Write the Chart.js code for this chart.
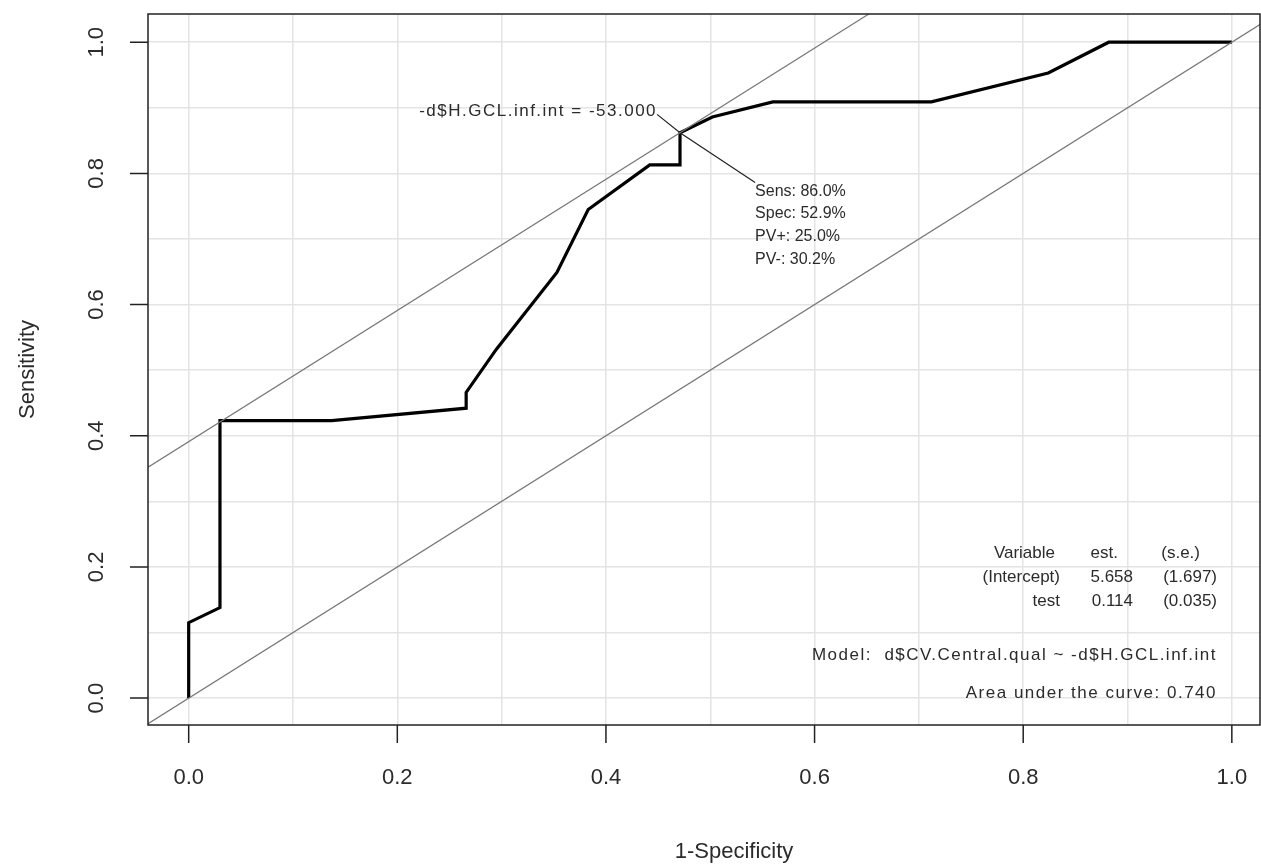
<!DOCTYPE html>
<html>
<head>
<meta charset="utf-8">
<script src="https://cdn.jsdelivr.net/npm/chart.js@4"></script>
<style>
  html, body { margin: 0; padding: 0; background: #fff; }
  #wrap { width: 1261px; height: 867px; }
</style>
</head>
<body>
<div id="wrap"><canvas id="roc"></canvas></div>
<script>
// ROC curve (1-specificity, sensitivity)
const fpr = [0, 0, 0.030, 0.030, 0.137, 0.266, 0.266, 0.295, 0.353, 0.383, 0.442, 0.471, 0.471, 0.502, 0.560, 0.712, 0.824, 0.882, 1.0];
const tpr = [0, 0.115, 0.138, 0.423, 0.423, 0.442, 0.466, 0.532, 0.649, 0.745, 0.813, 0.813, 0.862, 0.886, 0.909, 0.909, 0.953, 1.0, 1.0];
const tickVals = [0, 0.2, 0.4, 0.6, 0.8, 1.0];
const tickLabels = ["0.0", "0.2", "0.4", "0.6", "0.8", "1.0"];
const bestFpr = 0.471, bestTpr = 0.862;
const bestLabel = "-d$H.GCL.inf.int = -53.000";
const bestStats = ["Sens: 86.0%", "Spec: 52.9%", "PV+: 25.0%", "PV-: 30.2%"];
const tableRows = [["Variable", "est.", "(s.e.)"], ["(Intercept)", "5.658", "(1.697)"], ["test", "0.114", "(0.035)"]];
const modelText = "Model:  d$CV.Central.qual ~ -d$H.GCL.inf.int";
const aucText = "Area under the curve: 0.740";

const FONT = '"Liberation Sans", Arial, sans-serif';
const TXT = "#2b2b2b";

const rocPoints = fpr.map((x, i) => ({ x, y: tpr[i] }));
// slope-1 reference lines: diagonal and the tangent through the optimal cut-off
const diag = [{ x: -0.1, y: -0.1 }, { x: 1.1, y: 1.1 }];
const tangent = [{ x: -0.1, y: bestTpr - bestFpr - 0.1 }, { x: 0.8, y: bestTpr - bestFpr + 0.8 }];
const pointer = [{ x: 0.449, y: 0.890 }, { x: bestFpr, y: bestTpr }, { x: 0.543, y: 0.786 }];

const decor = {
  id: "decor",
  afterDraw(chart) {
    const { ctx, chartArea: a, scales: { x, y } } = chart;
    ctx.save();
    ctx.strokeStyle = "#222";
    ctx.lineWidth = 1.5;
    ctx.strokeRect(a.left, a.top, a.right - a.left, a.bottom - a.top);
    ctx.fillStyle = TXT;
    ctx.font = "22px " + FONT;
    tickVals.forEach((v, i) => {
      const px = x.getPixelForValue(v), py = y.getPixelForValue(v);
      ctx.beginPath();
      ctx.moveTo(px, a.bottom); ctx.lineTo(px, a.bottom + 18);
      ctx.moveTo(a.left, py); ctx.lineTo(a.left - 18, py);
      ctx.stroke();
      ctx.textAlign = "center"; ctx.textBaseline = "middle";
      ctx.fillText(tickLabels[i], px, a.bottom + 53);
      ctx.save();
      ctx.translate(a.left - 51, py);
      ctx.rotate(-Math.PI / 2);
      ctx.fillText(tickLabels[i], 0, 0);
      ctx.restore();
    });
    ctx.fillText("1-Specificity", (a.left + a.right) / 2 + 30, a.bottom + 127);
    ctx.save();
    ctx.translate(28, (a.top + a.bottom) / 2);
    ctx.rotate(-Math.PI / 2);
    ctx.fillText("Sensitivity", 0, 0);
    ctx.restore();

    ctx.font = "17px " + FONT;
    ctx.textAlign = "right";
    ctx.letterSpacing = "1.5px";
    ctx.fillText(bestLabel, x.getPixelForValue(0.449), y.getPixelForValue(0.894));
    ctx.fillText(modelText, a.right - 43, 655);
    ctx.fillText(aucText, a.right - 43, 693);
    ctx.letterSpacing = "0px";

    ctx.font = "16px " + FONT;
    ctx.textAlign = "left";
    const sx = x.getPixelForValue(0.543);
    bestStats.forEach((s, i) => ctx.fillText(s, sx, y.getPixelForValue(0.773) + i * 22.7));

    ctx.font = "17px " + FONT;
    ctx.textAlign = "right";
    const colR = [a.right - 200, a.right - 127, a.right - 43];
    tableRows.forEach((row, r) => {
      row.forEach((c, k) => {
        let cx = colR[k];
        if (r === 0) cx += [-5, -15, -17][k];
        ctx.fillText(c, cx, 553 + r * 24);
      });
    });
    ctx.restore();
  }
};

new Chart(document.getElementById("roc"), {
  type: "scatter",
  data: {
    datasets: [
      { data: diag, showLine: true, borderColor: "#777", borderWidth: 1.2, pointRadius: 0 },
      { data: tangent, showLine: true, borderColor: "#777", borderWidth: 1.2, pointRadius: 0 },
      { data: pointer, showLine: true, borderColor: "#222", borderWidth: 1.2, pointRadius: 0 },
      { data: rocPoints, showLine: true, borderColor: "#000", borderWidth: 3.2, pointRadius: 0, tension: 0 }
    ]
  },
  options: {
    responsive: true,
    maintainAspectRatio: false,
    animation: false,
    layout: { padding: { top: 14, right: 1, left: 0, bottom: 0 } },
    plugins: { legend: { display: false }, tooltip: { enabled: false } },
    scales: {
      x: {
        type: "linear", min: -0.039, max: 1.027,
        afterFit: (s) => { s.height = 142; },
        afterBuildTicks: (s) => { s.ticks = [0,1,2,3,4,5,6,7,8,9,10].map(v => ({ value: v / 10 })); },
        ticks: { display: false },
        grid: { color: "#e4e4e4", lineWidth: 1.5, drawTicks: false },
        border: { display: false }
      },
      y: {
        type: "linear", min: -0.041, max: 1.043,
        afterFit: (s) => { s.width = 148; },
        afterBuildTicks: (s) => { s.ticks = [0,1,2,3,4,5,6,7,8,9,10].map(v => ({ value: v / 10 })); },
        ticks: { display: false },
        grid: { color: "#e4e4e4", lineWidth: 1.5, drawTicks: false },
        border: { display: false }
      }
    }
  },
  plugins: [decor]
});
</script>
</body>
</html>
